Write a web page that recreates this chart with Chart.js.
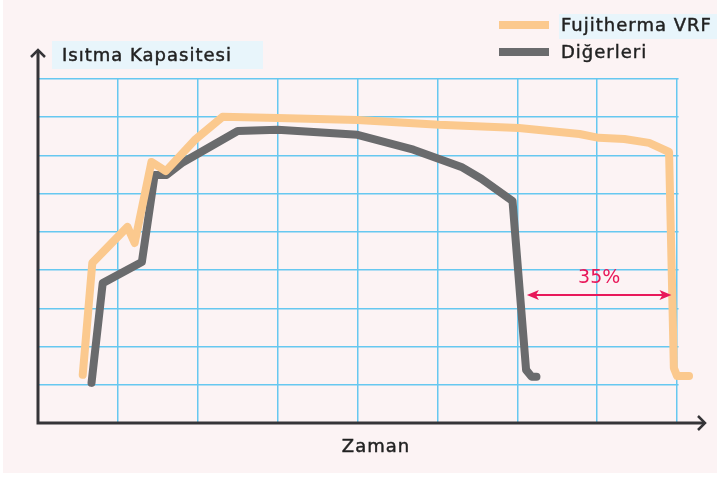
<!DOCTYPE html>
<html lang="tr">
<head>
<meta charset="utf-8">
<script src="https://cdn.jsdelivr.net/npm/chart.js@4"></script>
<style>
  html, body { margin: 0; padding: 0; background: #ffffff; }
  #wrap { width: 717px; height: 477px; }
</style>
</head>
<body>
<div id="wrap"><canvas id="chart" width="717" height="477"></canvas></div>
<script>
// Veri (eksenler: zaman 0..8, kapasite 0..9)
const seriesLabels = ['Fujitherma VRF', 'Diğerleri'];
const fujiX = [0.56, 0.68, 1.12, 1.21, 1.42, 1.60, 1.96, 2.31, 3.00, 4.00, 5.02, 6.02, 6.78, 7.02, 7.34, 7.65, 7.90, 7.96, 8.00, 8.15];
const fujiY = [1.26, 4.19, 5.13, 4.71, 6.83, 6.59, 7.40, 8.01, 7.98, 7.93, 7.80, 7.72, 7.56, 7.46, 7.43, 7.33, 7.09, 1.44, 1.23, 1.23];
const digerX = [0.67, 0.81, 1.30, 1.46, 1.61, 1.80, 2.50, 3.00, 4.00, 4.70, 5.30, 5.55, 5.94, 6.11, 6.18, 6.24];
const digerY = [1.05, 3.66, 4.21, 6.49, 6.49, 6.80, 7.64, 7.67, 7.54, 7.15, 6.70, 6.39, 5.81, 1.39, 1.21, 1.21];
const xTicks = [0, 1, 2, 3, 4, 5, 6, 7, 8];
const yTicks = [0, 1, 2, 3, 4, 5, 6, 7, 8, 9];
const gapLabel = '35%';
const gapFrom = 6.12, gapTo = 7.93, gapAt = 3.35;

const toPoints = (xs, ys) => xs.map((x, i) => ({ x, y: ys[i] }));

const FONT = '"DejaVu Sans", sans-serif';
const PINK = '#fcf3f4';
const AXIS = '#353437';
const ACCENT = '#e8185a';
const TEXT = '#222222';
const GRID = '#66c8f0';
const GRID_END = 8; // yatay ızgara çizgileri burada biter

// biraz daha kalın görünen metin
function label(ctx, txt, x, y) {
  ctx.fillText(txt, x, y);
  ctx.lineWidth = 0.45;
  ctx.strokeStyle = ctx.fillStyle;
  ctx.strokeText(txt, x, y);
}

// Arka plan, eksen okları, başlıklar, açıklama
const decor = {
  id: 'decor',
  beforeDraw(chart) {
    const ctx = chart.ctx;
    ctx.save();
    ctx.fillStyle = '#ffffff';
    ctx.fillRect(0, 0, chart.width, chart.height);
    ctx.fillStyle = PINK;
    ctx.fillRect(3, 0, chart.width - 3, 473);
    ctx.restore();
  },
  beforeDatasetsDraw(chart) {
    // ızgaranın sağ taşmasını kapat
    const { ctx, chartArea: a, scales } = chart;
    const xe = scales.x.getPixelForValue(GRID_END) + 1.5;
    ctx.save();
    ctx.fillStyle = PINK;
    ctx.fillRect(xe, a.top - 2, a.right - xe + 2, a.bottom - a.top + 4);
    ctx.restore();
  },
  afterDatasetsDraw(chart) {
    const { ctx, scales } = chart;
    const x0 = scales.x.getPixelForValue(0);
    const y0 = scales.y.getPixelForValue(0);
    ctx.save();

    // eksenler
    ctx.strokeStyle = AXIS;
    ctx.lineWidth = 3;
    ctx.lineCap = 'butt';
    ctx.beginPath();
    ctx.moveTo(x0, y0 + 1.5);
    ctx.lineTo(x0, 51);
    ctx.moveTo(x0 - 1.5, y0);
    ctx.lineTo(705, y0);
    ctx.stroke();
    ctx.lineWidth = 2.5;
    ctx.lineJoin = 'miter';
    ctx.beginPath();
    ctx.moveTo(x0 - 7, 57);
    ctx.lineTo(x0, 50);
    ctx.lineTo(x0 + 7, 57);
    ctx.moveTo(698, y0 - 7);
    ctx.lineTo(705, y0);
    ctx.lineTo(698, y0 + 7);
    ctx.stroke();

    // y başlığı
    ctx.font = '18px ' + FONT;
    ctx.letterSpacing = '1px';
    ctx.textBaseline = 'middle';
    ctx.fillStyle = '#e8f5fb';
    ctx.fillRect(52, 41, 211, 28);
    ctx.fillStyle = TEXT;
    ctx.textAlign = 'left';
    label(ctx, 'Isıtma Kapasitesi', 62, 56);

    // x başlığı
    ctx.textAlign = 'center';
    label(ctx, 'Zaman', 376, 447);

    // lejant
    const ds = chart.data.datasets;
    ctx.fillStyle = '#e8f5fb';
    ctx.fillRect(559, 14, 158, 25);
    [25, 52].forEach((yy, i) => {
      ctx.fillStyle = ds[i].borderColor;
      ctx.fillRect(499, yy - 4, 50, 8);
      ctx.fillStyle = TEXT;
      ctx.textAlign = 'left';
      label(ctx, ds[i].label, 561, yy + 1);
    });

    // fark oku
    const ya = scales.y.getPixelForValue(gapAt);
    const xa = scales.x.getPixelForValue(gapFrom);
    const xb = scales.x.getPixelForValue(gapTo);
    ctx.letterSpacing = '0px';
    ctx.strokeStyle = ACCENT;
    ctx.fillStyle = ACCENT;
    ctx.lineWidth = 2;
    ctx.beginPath();
    ctx.moveTo(xa + 6, ya);
    ctx.lineTo(xb - 6, ya);
    ctx.stroke();
    [[xa, 1], [xb, -1]].forEach(([px, d]) => {
      ctx.beginPath();
      ctx.moveTo(px, ya);
      ctx.lineTo(px + 12 * d, ya - 5);
      ctx.lineTo(px + 9 * d, ya);
      ctx.lineTo(px + 12 * d, ya + 5);
      ctx.closePath();
      ctx.fill();
    });
    ctx.textAlign = 'center';
    ctx.font = '19px ' + FONT;
    ctx.fillText(gapLabel, (xa + xb) / 2, ya - 17);

    ctx.restore();
  }
};

const zeroSize = s => { if (s.isHorizontal()) s.height = 0; else s.width = 0; };

new Chart(document.getElementById('chart'), {
  type: 'line',
  data: {
    datasets: [
      {
        label: seriesLabels[0],
        data: toPoints(fujiX, fujiY),
        borderColor: '#fbc98e',
        borderWidth: 8,
        clip: false
      },
      {
        label: seriesLabels[1],
        data: toPoints(digerX, digerY),
        borderColor: '#6a6b6d',
        borderWidth: 8,
        clip: false
      }
    ]
  },
  options: {
    responsive: false,
    animation: false,
    events: [],
    layout: { padding: { left: 38, right: 0, top: 79, bottom: 54 } },
    elements: {
      point: { radius: 0 },
      line: { tension: 0, borderCapStyle: 'round', borderJoinStyle: 'round', fill: false }
    },
    scales: {
      x: {
        type: 'linear',
        min: 0, max: 8.5,
        afterBuildTicks: s => { s.ticks = xTicks.map(v => ({ value: v })); },
        afterFit: zeroSize,
        ticks: { display: false },
        border: { display: false },
        grid: { color: GRID, lineWidth: 1.5, drawTicks: false }
      },
      y: {
        type: 'linear',
        min: 0, max: 9,
        afterBuildTicks: s => { s.ticks = yTicks.map(v => ({ value: v })); },
        afterFit: zeroSize,
        ticks: { display: false },
        border: { display: false },
        grid: { color: GRID, lineWidth: 1.5, drawTicks: false }
      }
    },
    plugins: {
      legend: { display: false },
      tooltip: { enabled: false }
    }
  },
  plugins: [decor]
});
</script>
</body>
</html>
